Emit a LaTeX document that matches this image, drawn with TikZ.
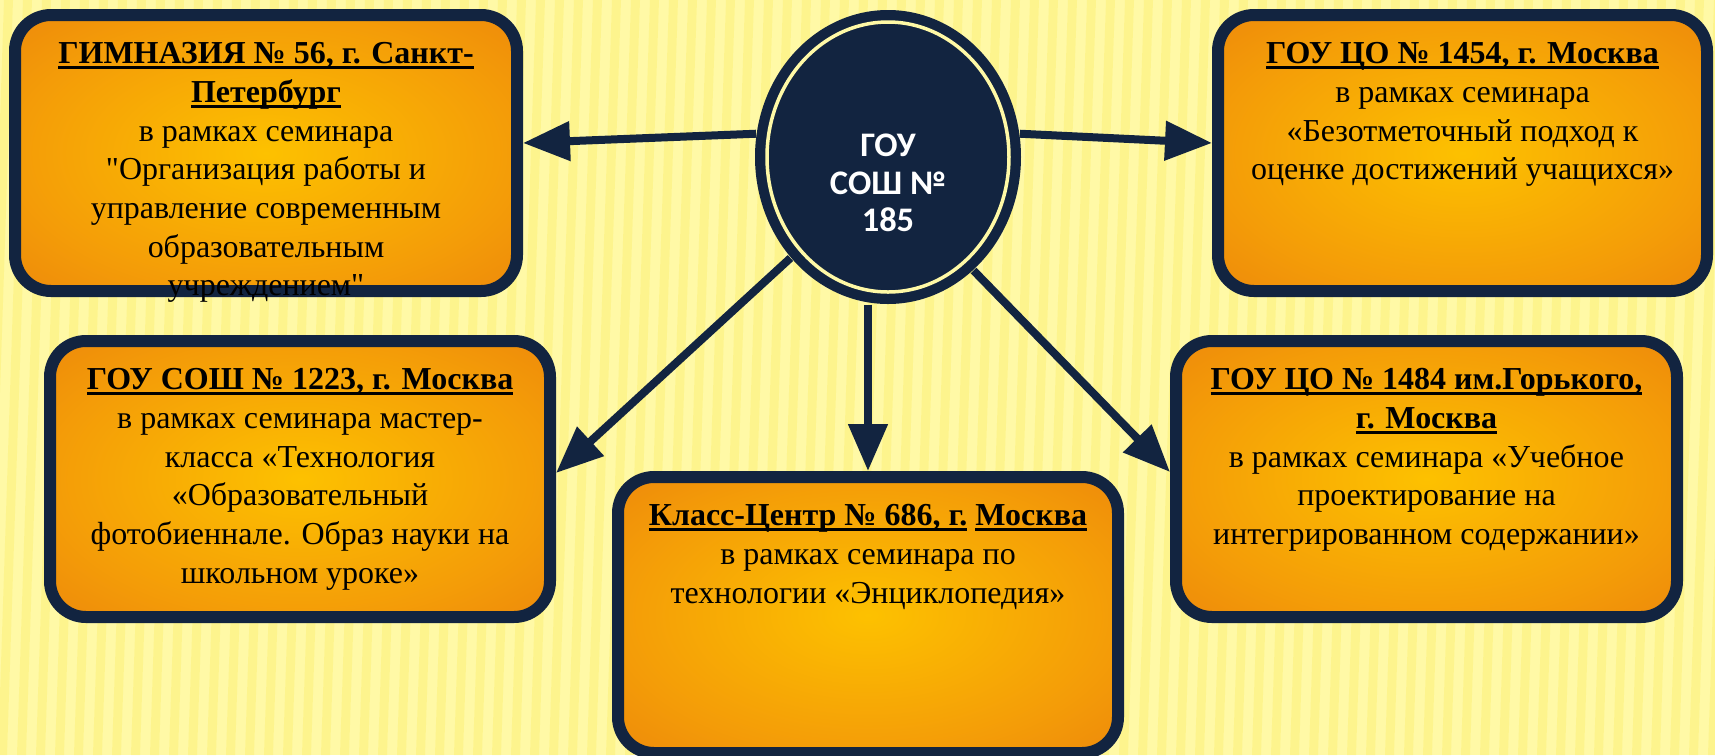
\documentclass[tikz,border=0pt]{standalone}
\usepackage{fontspec}
\setmainfont{Liberation Serif}
\newfontfamily\centrefont{Carlito}
\usetikzlibrary{arrows.meta}
\usetikzlibrary{positioning}
\usetikzlibrary{shapes.geometric}

\definecolor{navy}{RGB}{18,36,64}
\definecolor{glowin}{RGB}{253,193,0}
\definecolor{glowmid}{RGB}{244,156,8}
\definecolor{glowout}{RGB}{229,114,14}
\definecolor{bgbase}{RGB}{255,249,166}
\definecolor{bgstripe}{RGB}{252,236,96}
\pgfdeclareradialshading{glow}{\pgfpoint{0bp}{0bp}}{color(0bp)=(glowin); color(25bp)=(glowmid); color(50bp)=(glowout); color(75bp)=(glowout)}

\newcommand{\ulin}[1]{\setbox0=\hbox{#1}\rlap{\rule[-1.5pt]{\wd0}{0.85pt}}\box0\relax}

\tikzset{
  orgbox/.style={draw=navy, line width=1.2mm, rounded corners=3.6mm, shading=glow, minimum height=27.6mm, inner sep=0pt},
  orgtext/.style={inner sep=0pt, align=center, font=\fontsize{9.1}{11.0}\selectfont},
  link/.style={draw=navy, line width=0.8mm, -{Triangle[length=4.7mm,width=3.8mm]}}
}

\begin{document}
\begin{tikzpicture}[x=0.1mm,y=-0.1mm]
    \useasboundingbox (0,0) rectangle (1715,755);
    \fill[bgbase] (0,0) rectangle (1715,755);  %Hintergrund
    \foreach \sx in {-40,-21,...,1715}  %Streifen
    {
      \fill[bgstripe, opacity=0.35] (\sx,755) -- (\sx+9,755) -- (\sx+34,0) -- (\sx+25,0) -- cycle;
    };
    \node[orgbox, minimum width=50.2mm] (gimn) at (266,153) {};  %oben links
    \node[orgbox, minimum width=48.9mm] (ccone) at (1462.5,153) {};  %oben rechts
    \node[orgbox, minimum width=50.0mm] (sosh) at (300,479) {};  %unten links
    \node[orgbox, minimum width=50.0mm] (klass) at (868,615) {};  %unten Mitte
    \node[orgbox, minimum width=50.1mm] (gorky) at (1426.5,479) {};  %unten rechts
    \node[orgtext, below=3.3mm of gimn.north] (gimntext)
      {\ulin{\textbf{ГИМНАЗИЯ № 56, г. Санкт-}}\\ \ulin{\textbf{Петербург}}\\ в рамках семинара\\
       \textquotedbl Организация работы и\\ управление современным\\ образовательным\\ учреждением\textquotedbl};
    \node[orgtext, below=3.3mm of ccone.north] (cconetext)
      {\ulin{\textbf{ГОУ ЦО № 1454, г. Москва}}\\ в рамках семинара\\
       «Безотметочный подход к\\ оценке достижений учащихся»};
    \node[orgtext, below=3.3mm of sosh.north] (soshtext)
      {\ulin{\textbf{ГОУ СОШ № 1223, г. Москва}}\\ в рамках семинара мастер-\\ класса «Технология\\
       «Образовательный\\ фотобиеннале. Образ науки на\\ школьном уроке»};
    \node[orgtext, below=3.3mm of klass.north] (klasstext)
      {\ulin{\textbf{Класс-Центр № 686, г.}} \ulin{\textbf{Москва}}\\ в рамках семинара по\\
       технологии «Энциклопедия»};
    \node[orgtext, below=3.3mm of gorky.north] (gorkytext)
      {\ulin{\textbf{ГОУ ЦО № 1484 им.Горького,}}\\ \ulin{\textbf{г. Москва}}\\ в рамках семинара «Учебное\\
       проектирование на\\ интегрированном содержании»};
    \node[ellipse, fill=navy, minimum width=26.6mm, minimum height=29.4mm, inner sep=0pt] (school) at (888,157) {};  %Mitte
    \draw[link] (school.170) -- ([yshift=1mm]gimn.east);
    \draw[link] (school.10) -- ([yshift=1mm]ccone.west);
    \draw[link] (school.226) -- ([yshift=0.6mm]sosh.east);
    \draw[link] (school.south -| klass.north) -- (klass.north);
    \draw[link] (school.307) -- ([yshift=0.7mm]gorky.west);
    \draw[bgbase, line width=0.35mm] (school.center) ellipse [x radius=12.1mm, y radius=13.5mm];  %Ring
    \node[white, align=center, inner sep=0pt, font=\centrefont\bfseries\fontsize{9.8}{10.6}\selectfont]
      (schoollabel) at ([yshift=-2.6mm]school.center) {ГОУ\\ СОШ №\\ 185};
\end{tikzpicture}
\end{document}
